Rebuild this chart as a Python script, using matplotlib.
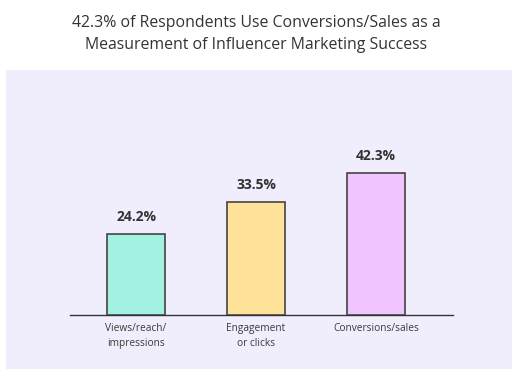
import matplotlib.pyplot as plt
from matplotlib.patches import Rectangle

categories = ["Views/reach/\nimpressions", "Engagement\nor clicks", "Conversions/sales"]
values = [24.2, 33.5, 42.3]
labels = ["24.2%", "33.5%", "42.3%"]
colors = ["#a3f2e1", "#ffe299", "#f0c5ff"]

plt.rcParams['font.family'] = ['Open Sans', 'DejaVu Sans']

fig = plt.figure(figsize=(5.12, 3.69), dpi=100)
fig.patch.set_facecolor("white")

# lavender panel behind the chart
fig.patches.append(Rectangle((6 / 512, 0), 1, (369 - 70) / 369,
                             transform=fig.transFigure, facecolor="#f0eefc",
                             edgecolor="none", zorder=-1))

fig.text(0.5, 1 - 34 / 369,
         "42.3% of Respondents Use Conversions/Sales as a\nMeasurement of Influencer Marketing Success",
         ha="center", va="center", fontsize=11.4, color="#333333", linespacing=1.45)

ax = fig.add_axes([70 / 512, 54 / 369, 383 / 512, 215 / 369])
ax.set_facecolor("none")
ax.set_zorder(2)

x = range(len(values))
ax.bar(x, values, width=0.48, color=colors, edgecolor="#444444", linewidth=1.2, zorder=3)
for i, v in enumerate(values):
    ax.text(i, v + 3, labels[i], ha="center", va="bottom",
            fontsize=10, fontweight="bold", color="#333333")

ax.set_xlim(-0.55, 2.64)
ax.set_ylim(0, 64)
ax.set_xticks(list(x))
ax.set_xticklabels(categories, fontsize=7.3, color="#3a3a3a", linespacing=1.5)
ax.tick_params(axis="x", length=0, pad=6)
ax.set_yticks([])
for s in ["top", "right", "left"]:
    ax.spines[s].set_visible(False)
ax.spines["bottom"].set_color("#333333")
ax.spines["bottom"].set_linewidth(1)

fig.savefig("out.png", dpi=100)
